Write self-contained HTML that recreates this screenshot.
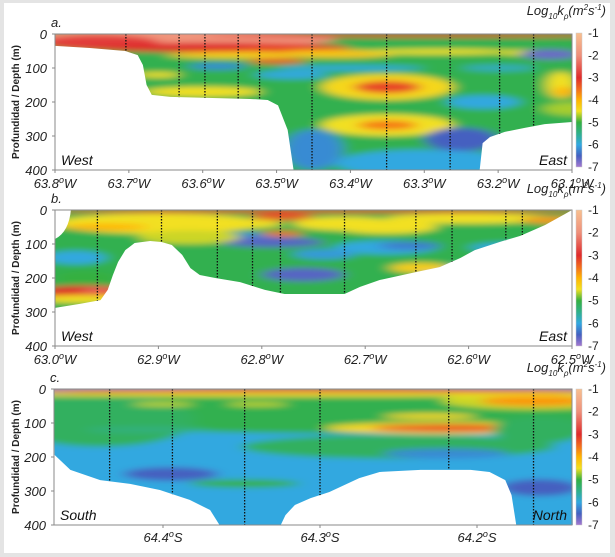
<!DOCTYPE html>
<html><head><meta charset="utf-8">
<style>
html,body{margin:0;padding:0;background:#e4e4e4;}
#wrap{position:relative;width:615px;height:557px;overflow:hidden;background:#e4e4e4;}
svg{position:absolute;left:0;top:0;}
text{font-family:"Liberation Sans",Arial,sans-serif;}
</style></head>
<body>
<div id="wrap">
<svg id="fig" width="615" height="557" viewBox="0 0 615 557">
<rect x="4" y="3" width="606" height="550" fill="#ffffff"/>
<defs>
<linearGradient id="cbar" x1="0" y1="0" x2="0" y2="1">
<stop offset="0" stop-color="#f8c090"/><stop offset="0.1667" stop-color="#ef8f7a"/>
<stop offset="0.3333" stop-color="#df2a2a"/><stop offset="0.4167" stop-color="#f26a1e"/>
<stop offset="0.5" stop-color="#ffb400"/><stop offset="0.5833" stop-color="#f2e020"/>
<stop offset="0.6667" stop-color="#34b040"/><stop offset="0.75" stop-color="#2fb08a"/>
<stop offset="0.8333" stop-color="#32a8e0"/><stop offset="0.9167" stop-color="#4460c0"/>
<stop offset="1" stop-color="#a478d0"/>
</linearGradient>
<filter id="blur" x="-20%" y="-20%" width="140%" height="140%"><feGaussianBlur stdDeviation="7 3"/></filter>
</defs>
</svg>
</div>
<script>
// ---- Panel a data (lon °W, depth m, log10 value) ----
const aTicks = [63.8, 63.7, 63.6, 63.5, 63.4, 63.3, 63.2, 63.1];
const aStations = [63.704, 63.632, 63.597, 63.552, 63.523, 63.452, 63.351, 63.265, 63.198, 63.152];
const aBotLon = [63.80, 63.753, 63.705, 63.688, 63.681, 63.676, 63.669, 63.644, 63.536, 63.512, 63.498, 63.485, 63.479, 63.477, 63.225, 63.221, 63.211, 63.191, 63.164, 63.137, 63.10];
const aBotDep = [35, 41, 50, 62, 91, 150, 179, 185, 191, 194, 210, 282, 370, 400, 400, 321, 303, 288, 276, 265, 259];
const aBlobLon = [63.64, 63.74, 63.58, 63.30, 63.50, 63.55, 63.42, 63.28, 63.15, 63.50, 63.58, 63.60, 63.66, 63.35, 63.35, 63.35, 63.35, 63.45, 63.25, 63.22, 63.13, 63.115, 63.48, 63.30, 63.10, 63.11, 63.40, 63.20];
const aBlobDep = [14, 25, 40, 4, 45, 62, 58, 52, 55, 80, 95, 170, 120, 156, 156, 268, 268, 340, 310, 200, 60, 150, 120, 380, 220, 170, 100, 100];
const aBlobVal = [-1.9, -2.8, -3.0, -3.0, -3.2, -4.3, -4.2, -4.5, -4.5, -3.3, -6.2, -4.5, -4.5, -4.4, -3.2, -4.5, -3.6, -6.2, -6.5, -6.0, -6.7, -4.5, -6.0, -6.0, -4.7, -4.0, -6.0, -5.8];
const aBlobRx = [0.22, 0.08, 0.18, 0.3, 0.05, 0.1, 0.08, 0.1, 0.05, 0.04, 0.04, 0.08, 0.03, 0.09, 0.045, 0.09, 0.04, 0.04, 0.05, 0.05, 0.04, 0.02, 0.05, 0.12, 0.04, 0.015, 0.1, 0.05];
const aBlobRy = [28, 22, 14, 6, 12, 10, 12, 8, 8, 8, 10, 15, 8, 38, 18, 32, 14, 60, 35, 20, 15, 40, 12, 40, 20, 15, 8, 10];
// ---- Panel b ----
const bTicks = [63.0, 62.9, 62.8, 62.7, 62.6, 62.5];
const bStations = [62.959, 62.897, 62.843, 62.809, 62.782, 62.720, 62.651, 62.616, 62.564, 62.548];
const bBotLon = [63.0, 62.976, 62.956, 62.949, 62.944, 62.939, 62.932, 62.923, 62.908, 62.897, 62.887, 62.877, 62.869, 62.860, 62.845, 62.821, 62.797, 62.778, 62.720, 62.705, 62.686, 62.650, 62.628, 62.608, 62.594, 62.570, 62.550, 62.526, 62.507, 62.500];
const bBotDep = [288, 276, 265, 235, 191, 153, 118, 97, 91, 94, 103, 132, 171, 191, 200, 212, 235, 247, 247, 226, 206, 182, 168, 141, 118, 94, 76, 44, 12, 0];
const bBlobLon = [62.75, 62.90, 62.95, 62.83, 62.82, 62.79, 62.78, 62.78, 62.72, 62.60, 62.68, 62.55, 62.97, 62.955, 62.97, 62.98, 62.76, 62.52, 62.60, 62.647, 62.657, 62.74, 62.68, 62.97, 62.87];
const bBlobDep = [3, 40, 50, 40, 80, 95, 20, 70, 40, 25, 110, 110, 240, 236, 262, 140, 190, 30, 180, 170, 105, 130, 50, 200, 80];
const bBlobVal = [-3.0, -4.5, -4.0, -4.5, -6.2, -6.6, -3.3, -3.5, -4.5, -4.5, -6.0, -6.0, -3.0, -2.4, -4.5, -6.0, -6.6, -3.8, -6.0, -4.3, -6.3, -6.1, -4.5, -5.0, -4.6];
const bBlobRx = [0.3, 0.1, 0.04, 0.05, 0.03, 0.05, 0.03, 0.02, 0.05, 0.08, 0.05, 0.05, 0.05, 0.02, 0.05, 0.03, 0.04, 0.03, 0.05, 0.03, 0.03, 0.03, 0.05, 0.03, 0.05];
const bBlobRy = [6, 30, 10, 15, 15, 15, 10, 8, 20, 15, 20, 15, 18, 8, 12, 20, 20, 10, 20, 15, 12, 15, 20, 20, 20];
// ---- Panel c (lon °S) ----
const cTicks = [64.4, 64.3, 64.2];
const cStations = [64.434, 64.394, 64.348, 64.300, 64.218, 64.164];
const cBotLon = [64.469, 64.459, 64.440, 64.421, 64.402, 64.383, 64.370, 64.364, 64.325, 64.322, 64.316, 64.306, 64.294, 64.275, 64.262, 64.236, 64.204, 64.192, 64.182, 64.178, 64.175, 64.139];
const cBotDep = [194, 238, 268, 279, 297, 326, 356, 400, 400, 371, 341, 321, 303, 262, 244, 238, 238, 244, 268, 312, 400, 400];
const cBlobLon = [64.30, 64.44, 64.25, 64.395, 64.348, 64.217, 64.217, 64.163, 64.163, 64.23, 64.22, 64.16, 64.41, 64.30, 64.30, 64.34, 64.40, 64.16];
const cBlobDep = [60, 90, 170, 250, 278, 115, 115, 35, 35, 80, 190, 290, 120, 4, 16, 45, 45, 120];
const cBlobVal = [-5.1, -5.2, -5.2, -6.5, -5.0, -4.4, -3.2, -4.6, -3.8, -4.4, -6.2, -6.5, -5.4, -2.8, -4.5, -4.6, -4.6, -5.2];
const cBlobRx = [0.22, 0.06, 0.1, 0.03, 0.035, 0.08, 0.05, 0.06, 0.035, 0.03, 0.04, 0.025, 0.04, 0.25, 0.25, 0.02, 0.02, 0.03];
const cBlobRy = [70, 80, 35, 20, 12, 18, 10, 25, 15, 8, 15, 25, 10, 7, 6, 6, 6, 40];
const cbLabels = ["-1", "-2", "-3", "-4", "-5", "-6", "-7"];

const NS = "http://www.w3.org/2000/svg";
const svg = document.getElementById("fig");
const cmV = [-1, -2, -3, -3.5, -4, -4.5, -5, -5.5, -6, -6.5, -7];
const cmC = ["#f8c090", "#ef8f7a", "#df2a2a", "#f26a1e", "#ffb400", "#f2e020", "#34b040", "#2fb08a", "#32a8e0", "#4460c0", "#a478d0"];
function hex(h){return [1,3,5].map(i=>parseInt(h.substr(i,2),16));}
function color(v){
  if(v>=cmV[0])return cmC[0];
  for(let i=0;i<cmV.length-1;i++){
    if(v<=cmV[i]&&v>=cmV[i+1]){
      const t=(cmV[i]-v)/(cmV[i]-cmV[i+1]);const a=hex(cmC[i]),b=hex(cmC[i+1]);
      return "rgb("+a.map((c,k)=>Math.round(c+(b[k]-c)*t)).join(",")+")";
    }
  }
  return cmC[cmC.length-1];
}
function mk(tag,attrs,parent){const e=document.createElementNS(NS,tag);for(const k in attrs)e.setAttribute(k,attrs[k]);(parent||svg).appendChild(e);return e;}

const panels = [
 {id:"a",x0:55,x1:572,y0:34,y1:170,lonL:63.8,lonR:63.1,ticks:aTicks,st:aStations,bl:aBotLon,bd:aBotDep,
  L:aBlobLon,D:aBlobDep,V:aBlobVal,RX:aBlobRx,RY:aBlobRy,bg:-5.1,hem:"W",left:"West",right:"East",cbTop:33,cbBot:167,title:15,tickY:188,dec:1},
 {id:"b",x0:55,x1:572,y0:210,y1:346,lonL:63.0,lonR:62.5,ticks:bTicks,st:bStations,bl:bBotLon,bd:bBotDep,
  L:bBlobLon,D:bBlobDep,V:bBlobVal,RX:bBlobRx,RY:bBlobRy,bg:-5.1,hem:"W",left:"West",right:"East",cbTop:210,cbBot:346,title:193,tickY:364,dec:1},
 {id:"c",x0:54,x1:572,y0:389,y1:525,lonL:64.4+109/1570,lonR:64.4-409/1570,ticks:cTicks,st:cStations,bl:cBotLon,bd:cBotDep,
  L:cBlobLon,D:cBlobDep,V:cBlobVal,RX:cBlobRx,RY:cBlobRy,bg:-6.0,hem:"S",left:"South",right:"North",cbTop:389,cbBot:525,title:372,tickY:542,dec:1}
];

panels.forEach(p=>{
  const xs=lon=>p.x0+(p.lonL-lon)/(p.lonL-p.lonR)*(p.x1-p.x0);
  const ys=d=>p.y0+d/400*(p.y1-p.y0);
  const pxPerLon=(p.x1-p.x0)/(p.lonL-p.lonR);
  const g=mk("g",{});
  
  
  const cp=mk("clipPath",{id:"clip"+p.id},g);
  let pts=[xs(p.lonL)+","+ys(0),xs(p.lonR)+","+ys(0)];
  for(let i=p.bl.length-1;i>=0;i--)pts.push(xs(p.bl[i])+","+ys(p.bd[i]));
  mk("polygon",{points:pts.join(" ")},cp);
  const field=mk("g",{"clip-path":"url(#clip"+p.id+")"},g);
  
  
  const bl=mk("g",{filter:"url(#blur)"},field);
  mk("rect",{x:p.x0-20,y:p.y0-20,width:p.x1-p.x0+40,height:p.y1-p.y0+40,fill:color(p.bg)},bl);
  for(let i=0;i<p.L.length;i++){
    const e=mk("ellipse",{cx:xs(p.L[i]),cy:ys(p.D[i]),rx:p.RX[i]*pxPerLon,ry:p.RY[i]*(p.y1-p.y0)/400,fill:color(p.V[i])},bl);
    
    
  }
  function bot(lon){
    for(let i=0;i<p.bl.length-1;i++){const a=p.bl[i],b=p.bl[i+1];
      if((lon<=a&&lon>=b)){const t=(a-lon)/(a-b);return p.bd[i]+(p.bd[i+1]-p.bd[i])*t;}}
    return 400;}
  p.st.forEach(s=>{
    const l=mk("line",{x1:xs(s),x2:xs(s),y1:ys(0),y2:ys(bot(s)),stroke:"#111","stroke-width":1.3,"stroke-dasharray":"1.5 1.5"},g);
    
    
  });
  if(p.id==="b"){
    const w=mk("path",{d:"M"+p.x0+" "+(p.y0-1)+" L"+(p.x0+16)+" "+(p.y0-1)+" Q"+(p.x0+14)+" "+(p.y0+22)+" "+p.x0+" "+(p.y0+29)+" Z",fill:"#fff"},g);
    
    
  }
  const fr=mk("rect",{x:p.x0,y:p.y0,width:p.x1-p.x0,height:p.y1-p.y0,fill:"none",stroke:"#8a8a8a","stroke-width":1},g);
  
  
  [0,100,200,300,400].forEach(d=>{
    const t=mk("text",{x:p.x0-8,y:ys(d)+5,"text-anchor":"end","font-size":"13","font-style":"italic",fill:"#222"},g);
    t.textContent=d;
    
    
    mk("line",{x1:p.x0-3,x2:p.x0,y1:ys(d),y2:ys(d),stroke:"#888"},g);
  });
  const yt=mk("text",{x:0,y:0,transform:"translate(19,"+((p.y0+p.y1)/2)+") rotate(-90)","text-anchor":"middle","font-size":"10","font-weight":"bold",fill:"#222"},g);
  yt.textContent="Profundidad / Depth (m)";
  
  
  p.ticks.forEach(v=>{
    const x=xs(v);
    mk("line",{x1:x,x2:x,y1:p.y1,y2:p.y1+3,stroke:"#888"},g);
    const t=mk("text",{x:x,y:p.tickY,"text-anchor":"middle","font-size":"13","font-style":"italic",fill:"#222"},g);
    
    
    t.appendChild(document.createTextNode(v.toFixed(p.dec)));
    const sup=mk("tspan",{dy:"-5","font-size":"9"},t);sup.textContent="o";
    const h=mk("tspan",{dy:"5"},t);h.textContent=p.hem;
  });
  const pl=mk("text",{x:p.x0-4,y:p.y0-7,"font-size":"13","font-style":"italic",fill:"#222"},g);
  pl.textContent=p.id+".";
  
  
  const lt=mk("text",{x:p.x0+6,y:p.y1-5,"font-size":"14","font-style":"italic",fill:"#111"},g);
  lt.textContent=p.left;
  
  
  const rt=mk("text",{x:p.x1-5,y:p.y1-5,"text-anchor":"end","font-size":"14","font-style":"italic",fill:"#111"},g);
  rt.textContent=p.right;
  
  
  const cb=mk("rect",{x:576,y:p.cbTop,width:6,height:p.cbBot-p.cbTop,fill:"url(#cbar)",stroke:"#ccc","stroke-width":0.5},g);
  
  
  cbLabels.forEach((s,i)=>{
    const y=p.cbTop+i*(p.cbBot-p.cbTop)/(cbLabels.length-1);
    const t=mk("text",{x:588,y:y+4,"font-size":"12",fill:"#222"},g);
    t.textContent=s;
    
    
  });
  const ct=mk("text",{x:606,y:p.title,"text-anchor":"end","font-size":"13","font-style":"italic",fill:"#222"},g);
  
  
  ct.innerHTML='Log<tspan dy="4" font-size="8">10</tspan><tspan dy="-4">k</tspan><tspan dy="4" font-size="8">ρ</tspan><tspan dy="-4">(m</tspan><tspan dy="-5" font-size="8">2</tspan><tspan dy="5">s</tspan><tspan dy="-5" font-size="8">-1</tspan><tspan dy="5">)</tspan>';
});
</script>
</body></html>
